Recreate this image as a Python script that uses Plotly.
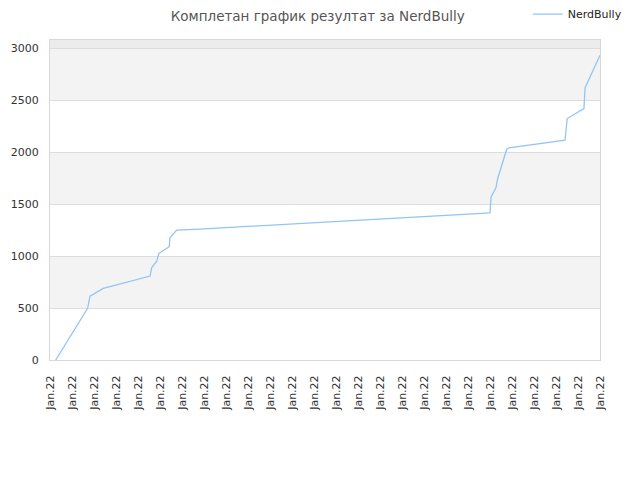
import plotly.graph_objects as go

# x positions are in "tick units" (one unit per Jan.22 label)
x_vals = [0.26, 1.71, 1.82, 2.42, 4.55, 4.62, 4.85, 4.95, 5.42, 5.45, 5.76, 6.82,
          20.0, 20.05, 20.27, 20.35, 20.76, 20.86, 23.41, 23.51, 24.27, 24.32, 25.0]
scores = [0, 497, 615, 689, 808, 888, 952, 1026, 1090, 1176, 1250, 1260,
          1416, 1570, 1657, 1747, 2029, 2041, 2115, 2324, 2420, 2618, 2933]
tick_labels = ["Jan.22"] * 26
y_ticks = [0, 500, 1000, 1500, 2000, 2500, 3000]

fig = go.Figure(go.Scatter(
    x=x_vals, y=scores, mode="lines", name="NerdBully",
    line=dict(color="#92c5f3", width=1.3),
))

# alternating grey bands
shapes = []
for lo in [500, 1500, 2500]:
    shapes.append(dict(type="rect", xref="paper", yref="y", x0=0, x1=1, y0=lo, y1=lo + 500,
                       fillcolor="#f3f3f3", line_width=0, layer="below"))
shapes.append(dict(type="rect", xref="paper", yref="y", x0=0, x1=1, y0=3000, y1=3080,
                   fillcolor="#ececec", line_width=0, layer="below"))

# page has an 8px body margin, so the figure is shrunk to fit the window
fig.update_layout(
    shapes=shapes,
    width=632, height=472,
    margin=dict(l=42, r=40, t=32, b=120, autoexpand=False),
    paper_bgcolor="white", plot_bgcolor="white",
    font=dict(family="DejaVu Sans", size=11, color="#333"),
    title=dict(text="Комплетан график резултат за NerdBully", x=0.49, xanchor="center",
               xref="container", yref="container", y=0.982, yanchor="middle",
               font=dict(size=13.5, color="#555")),
    showlegend=True,
    legend=dict(x=0.979, xanchor="right", xref="container", y=0.987, yanchor="middle",
                yref="container", bgcolor="rgba(0,0,0,0)", itemwidth=30,
                font=dict(size=11, color="#222")),
    xaxis=dict(range=[0, 25], tickvals=list(range(26)), ticktext=tick_labels,
               tickangle=-90, showgrid=False, zeroline=False, showline=True,
               linecolor="#d8d8d8", mirror=True, ticks="", ticklabelstandoff=10,
               automargin=False),
    yaxis=dict(range=[0, 3080], tickvals=y_ticks, showgrid=True,
               gridcolor="#dddddd", zeroline=False, showline=True,
               linecolor="#d8d8d8", mirror=True, ticks="", ticklabelstandoff=8,
               automargin=False),
)

fig.write_html("out.html")
